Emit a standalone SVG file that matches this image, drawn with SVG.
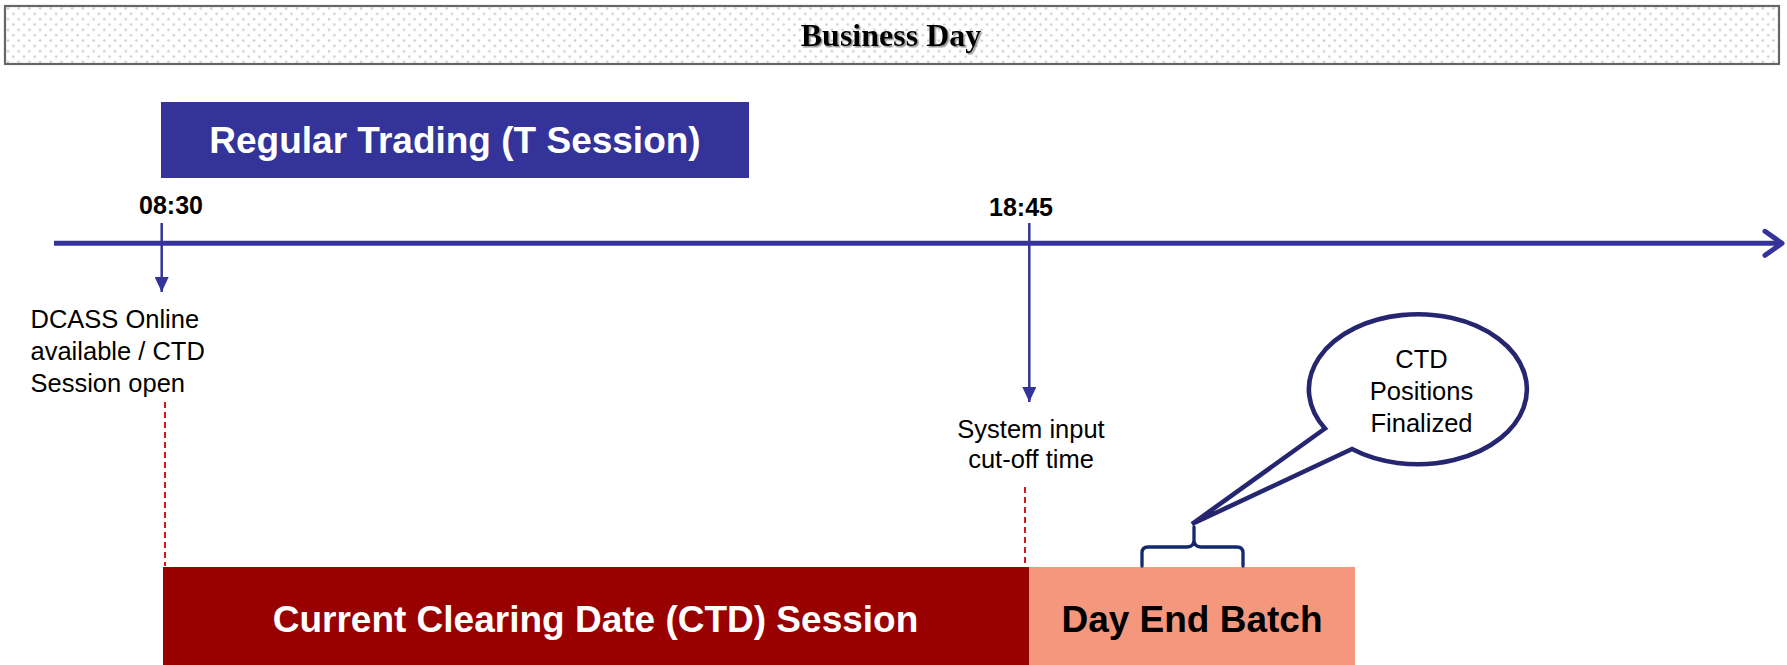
<svg xmlns="http://www.w3.org/2000/svg" width="1787" height="665" viewBox="0 0 1787 665">
  <style>
    .sans { font-family: "Liberation Sans", Arial, sans-serif; }
    .serif { font-family: "Liberation Serif", "Times New Roman", serif; }
    .lbl { font-family: "Liberation Sans", Arial, sans-serif; font-size: 25.5px; fill: #000; }
    .time { font-family: "Liberation Sans", Arial, sans-serif; font-size: 25px; font-weight: bold; fill: #000; }
    .bar { font-family: "Liberation Sans", Arial, sans-serif; font-size: 37px; font-weight: bold; }
    .tick { stroke: #333399; stroke-width: 2.5; fill: none; }
    .dash { stroke: #CC0000; stroke-width: 1.8; stroke-dasharray: 6 4; fill: none; }
  </style>
  <defs>
    <pattern id="dots" width="10.7" height="10.7" patternUnits="userSpaceOnUse" x="5" y="6">
      <rect width="10.7" height="10.7" fill="#ffffff"/>
      <circle cx="3" cy="2.5" r="1.3" fill="#c9d1c9"/>
      <circle cx="8.35" cy="7.85" r="1.3" fill="#c9d1c9"/>
    </pattern>
    <marker id="tri" viewBox="0 0 15 14" refX="15" refY="7" markerWidth="15" markerHeight="14" markerUnits="userSpaceOnUse" orient="auto">
      <path d="M0,0 L15,7 L0,14 z" fill="#333399"/>
    </marker>
    <marker id="chev" viewBox="0 0 24 30" refX="20" refY="15" markerWidth="24" markerHeight="30" markerUnits="userSpaceOnUse" orient="auto">
      <path d="M3,3 L20,15 L3,27" fill="none" stroke="#333399" stroke-width="5" stroke-linecap="round" stroke-linejoin="round"/>
    </marker>
    <filter id="shadow" x="-10%" y="-20%" width="120%" height="150%">
      <feDropShadow dx="1.5" dy="1.5" stdDeviation="0.6" flood-color="#808080" flood-opacity="0.8"/>
    </filter>
  </defs>

  <g id="business-day">
    <rect x="5" y="6" width="1774" height="58" fill="url(#dots)" stroke="#666666" stroke-width="2.2"/>
    <text x="891" y="46" class="serif" font-size="32" font-weight="bold" text-anchor="middle" fill="#000" filter="url(#shadow)">Business Day</text>
  </g>

  <g id="regular-trading">
    <rect x="161" y="102" width="588" height="76" fill="#333399"/>
    <text x="455" y="153" class="bar" text-anchor="middle" fill="#ffffff">Regular Trading (T Session)</text>
  </g>

  <g id="connectors">
    <line x1="54" y1="243.3" x2="1782" y2="243.3" stroke="#333399" stroke-width="5" marker-end="url(#chev)"/>
    <line x1="161.7" y1="223" x2="161.7" y2="292" class="tick" marker-end="url(#tri)"/>
    <line x1="1029.3" y1="223" x2="1029.3" y2="402" class="tick" marker-end="url(#tri)"/>
    <line x1="165" y1="402" x2="165" y2="566" class="dash"/>
    <line x1="1025" y1="487" x2="1025" y2="566" class="dash"/>
  </g>

  <g id="label-0830">
    <text x="139" y="214" class="time">08:30</text>
  </g>
  <g id="label-1845">
    <text x="989" y="215.7" class="time">18:45</text>
  </g>

  <g id="dcass-online">
    <text class="lbl" x="30.5" y="328">DCASS Online</text>
    <text class="lbl" x="30.5" y="360">available / CTD</text>
    <text class="lbl" x="30.5" y="392">Session open</text>
  </g>

  <g id="cutoff">
    <text class="lbl" x="1031" y="437.7" text-anchor="middle">System input</text>
    <text class="lbl" x="1031" y="468.3" text-anchor="middle">cut-off time</text>
  </g>

  <g id="ctd-session">
    <rect x="163" y="567" width="866" height="98" fill="#990000"/>
    <text x="595.5" y="632" class="bar" text-anchor="middle" fill="#ffffff">Current Clearing Date (CTD) Session</text>
  </g>

  <g id="day-end-batch">
    <rect x="1029" y="567" width="326" height="98" fill="#F4977D"/>
    <text x="1192" y="632" class="bar" text-anchor="middle" fill="#000000">Day End Batch</text>
  </g>

  <g id="callout">
    <path d="M1325,428.5 L1192,524 L1352,449 A109,75 0 1 0 1325,428.5 Z" fill="#ffffff" stroke="#262670" stroke-width="4.6" stroke-linejoin="miter"/>
    <text class="lbl" x="1421.5" y="368.3" text-anchor="middle">CTD</text>
    <text class="lbl" x="1421.5" y="400" text-anchor="middle">Positions</text>
    <text class="lbl" x="1421.5" y="431.7" text-anchor="middle">Finalized</text>
  </g>

  <g id="brace">
    <path d="M1142,566 V553 Q1142,547 1148,547 H1187 Q1194,547 1194,540 V527 M1194,540 Q1194,547 1201,547 H1237 Q1243,547 1243,553 V566" fill="none" stroke="#12296B" stroke-width="3.3" stroke-linecap="round" stroke-linejoin="round"/>
  </g>
</svg>
